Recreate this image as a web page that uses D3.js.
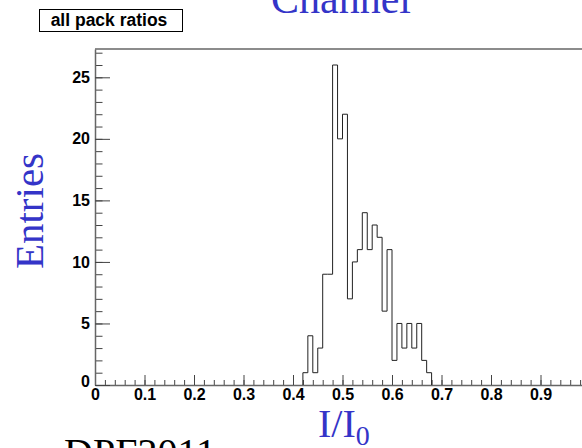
<!DOCTYPE html>
<html>
<head>
<meta charset="utf-8">
<script src="https://cdn.jsdelivr.net/npm/d3@7"></script>
<style>
  body { margin: 0; background: #fff; }
  svg { display: block; }
</style>
</head>
<body>
<svg width="582" height="448"></svg>
<script>
// histogram of I/I0, 100 bins between 0 and 1, only non-empty bins listed
var binLow = [0.42, 0.43, 0.44, 0.45, 0.46, 0.47, 0.48, 0.49, 0.50, 0.51, 0.52, 0.53, 0.54,
              0.55, 0.56, 0.57, 0.58, 0.59, 0.60, 0.61, 0.62, 0.63, 0.64, 0.65, 0.66, 0.67];
var entries = [1, 4, 1, 3, 9, 9, 26, 20, 22, 7, 10, 11, 14,
               11, 13, 12, 6, 11, 2, 5, 3, 5, 3, 5, 2, 1];
var binWidth = 0.01;
var xTicks = [0, 0.1, 0.2, 0.3, 0.4, 0.5, 0.6, 0.7, 0.8, 0.9];
var yTicks = [0, 5, 10, 15, 20, 25];

var svg = d3.select("svg");

var x = d3.scaleLinear().domain([0, 1]).range([95, 590]);
var y = d3.scaleLinear().domain([0, 27.3]).range([385, 49]);

// frame top line
svg.append("line")
    .attr("x1", x(0)).attr("x2", x(1))
    .attr("y1", y(27.3)).attr("y2", y(27.3))
    .attr("stroke", "#666").attr("stroke-width", 1.5);

// minor ticks
var xMinor = d3.range(0, 1.0001, 0.02);
var yMinor = d3.range(0, 28, 1);

svg.append("g")
    .attr("transform", "translate(0," + y(0) + ")")
    .call(d3.axisBottom(x).tickValues(xMinor).tickSizeInner(-5).tickSizeOuter(0).tickFormat(""))
    .call(g => g.select(".domain").remove())
    .selectAll("line").attr("stroke", "#444");

svg.append("g")
    .attr("transform", "translate(" + x(0) + ",0)")
    .call(d3.axisLeft(y).tickValues(yMinor).tickSizeInner(-7.5).tickSizeOuter(0).tickFormat(""))
    .call(g => g.select(".domain").remove())
    .selectAll("line").attr("stroke", "#444");

// major axes
var xAxis = svg.append("g")
    .attr("transform", "translate(0," + y(0) + ")")
    .call(d3.axisBottom(x).tickValues(xTicks).tickSizeInner(-10).tickSizeOuter(0).tickPadding(4)
        .tickFormat(d => d === 0 ? "0" : d3.format(".1f")(d)));
xAxis.select(".domain").attr("stroke", "#666").attr("stroke-width", 1.5);
xAxis.selectAll(".tick line").attr("stroke", "#444");

var yAxis = svg.append("g")
    .attr("transform", "translate(" + x(0) + ",0)")
    .call(d3.axisLeft(y).tickValues(yTicks).tickSizeInner(-15).tickSizeOuter(0).tickPadding(5));
yAxis.select(".domain").attr("stroke", "#666").attr("stroke-width", 1.5);
yAxis.selectAll(".tick line").attr("stroke", "#444");
yAxis.selectAll(".tick text").filter(d => d === 0).attr("dy", "0.1em");

svg.selectAll(".tick text")
    .attr("font-family", "Liberation Sans, Arial, sans-serif")
    .attr("font-weight", "bold")
    .attr("font-size", 16)
    .attr("fill", "#000");

// histogram outline
var pts = [[binLow[0], 0]];
binLow.forEach((b, i) => {
    pts.push([b, entries[i]]);
    pts.push([b + binWidth, entries[i]]);
});
pts.push([binLow[binLow.length - 1] + binWidth, 0]);

svg.append("path")
    .datum(pts)
    .attr("fill", "none")
    .attr("stroke", "#222")
    .attr("stroke-width", 1)
    .attr("d", d3.line().x(d => x(d[0])).y(d => y(d[1])));

// stats-like title box
svg.append("rect")
    .attr("x", 39.5).attr("y", 9.5)
    .attr("width", 143).attr("height", 22)
    .attr("fill", "#fff").attr("stroke", "#000");
svg.append("text")
    .attr("x", 109).attr("y", 26)
    .attr("text-anchor", "middle")
    .style("font-family", "Liberation Sans, Arial, sans-serif")
    .style("font-weight", "bold")
    .style("font-size", "17.5px")
    .text("all pack ratios");

var blue = "#3434c8";
var serif = "Liberation Serif, Times New Roman, serif";

svg.append("text")
    .attr("x", 341).attr("y", 13)
    .attr("text-anchor", "middle")
    .style("font-family", serif).style("font-size", "42px")
    .attr("fill", blue)
    .text("Channel");

svg.append("text")
    .attr("transform", "translate(43,211) rotate(-90)")
    .attr("text-anchor", "middle")
    .style("font-family", serif).style("font-size", "41px")
    .attr("fill", blue)
    .text("Entries");

var xl = svg.append("text")
    .attr("x", 318).attr("y", 437)
    .style("font-family", serif).style("font-size", "40px")
    .attr("fill", blue);
xl.append("tspan").text("I/I");
xl.append("tspan").attr("dy", 8).style("font-size", "28px").text("0");

svg.append("text")
    .attr("x", 64).attr("y", 466)
    .style("font-family", serif).style("font-size", "40px")
    .attr("fill", "#000")
    .text("DPF2011");
</script>
</body>
</html>
